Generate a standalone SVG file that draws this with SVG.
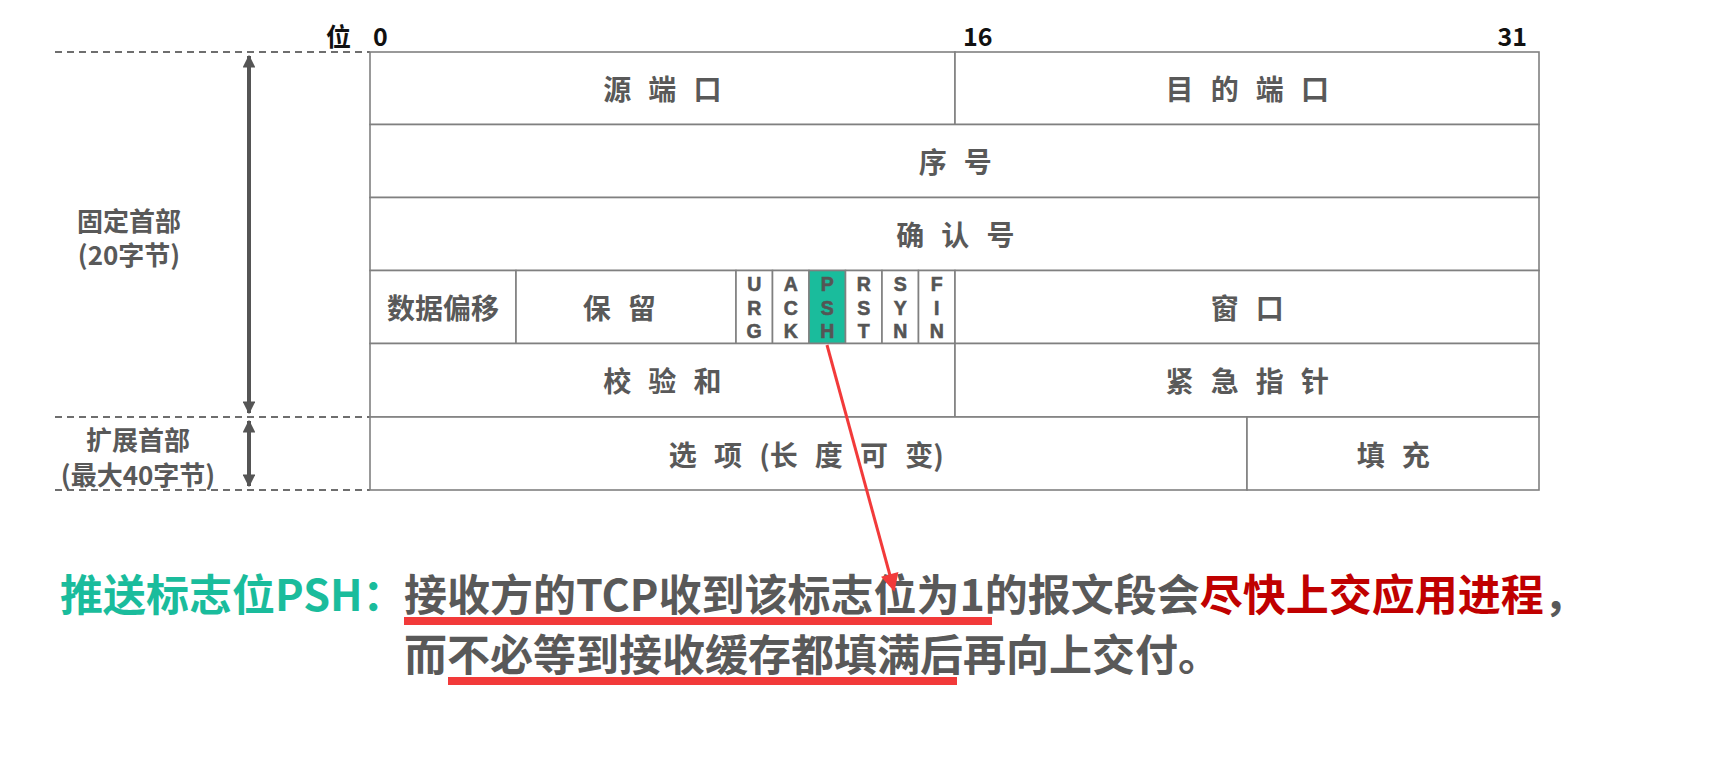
<svg xmlns="http://www.w3.org/2000/svg" width="1735" height="758" viewBox="0 0 1735 758">
<style>
.cell{fill:#ffffff;stroke:#808080;stroke-width:1.6}
.psh{fill:#1abc9c;stroke:#808080;stroke-width:1.6}
.lbl{font-family:"Noto Sans CJK SC","Noto Sans",sans-serif;font-weight:700;fill:#595959;font-size:28px;text-anchor:middle;dominant-baseline:central}
.sp{letter-spacing:5.4px}
.tight{letter-spacing:0}
.flag{font-family:"Liberation Sans",Arial,sans-serif;font-weight:700;fill:#555555;stroke:#555555;stroke-width:0.6;font-size:19.5px;text-anchor:middle}
.side{font-family:"Noto Sans CJK SC","Noto Sans",sans-serif;font-weight:700;fill:#595959;font-size:26px;text-anchor:middle;dominant-baseline:central}
.bit{font-family:"Noto Sans CJK SC","Noto Sans",sans-serif;font-weight:700;fill:#111111;font-size:25px}
.dash{stroke:#6e6e6e;stroke-width:2;stroke-dasharray:7 5;fill:none}
.dim{stroke:#555555;stroke-width:4;fill:none;marker-start:url(#dimHead);marker-end:url(#dimHead)}
.body{font-family:"Noto Sans CJK SC","Noto Sans",sans-serif;font-weight:700;font-size:43px;fill:#595959}
</style>
<defs>
<marker id="dimHead" viewBox="0 0 10 10" refX="9" refY="5" markerWidth="3.2" markerHeight="3.2" orient="auto-start-reverse" markerUnits="strokeWidth">
<path d="M0,0 L10,5 L0,10 z" fill="#555555"/>
</marker>
<marker id="redHead" viewBox="0 0 10 10" refX="9" refY="5" markerWidth="10" markerHeight="6" orient="auto" markerUnits="strokeWidth">
<path d="M0,0 L10,5 L0,10 z" fill="#f23a3a"/>
</marker>
</defs>
<rect width="1735" height="758" fill="#ffffff"/>

<g id="bit-labels">
<text class="bit" x="326" y="46">位</text>
<text class="bit" x="373" y="46">0</text>
<text class="bit" x="963" y="46">16</text>
<text class="bit" x="1527" y="46" text-anchor="end">31</text>
</g>

<g id="guides">
<line class="dash" x1="55" y1="52" x2="370" y2="52"/>
<line class="dash" x1="55" y1="417" x2="370" y2="417"/>
<line class="dash" x1="55" y1="490" x2="370" y2="490"/>
</g>

<g id="fixed-header">
<text class="side" x="129" y="219">固定首部</text>
<text class="side" x="129" y="253">(20字节)</text>
</g>
<g id="ext-header">
<text class="side" x="138" y="438">扩展首部</text>
<text class="side" x="138" y="473">(最大40字节)</text>
</g>

<g id="src-port"><rect class="cell" x="370" y="52" width="585" height="72.5"/><text class="lbl sp" x="665" y="88">源 端 口</text></g>
<g id="dst-port"><rect class="cell" x="955" y="52" width="584" height="72.5"/><text class="lbl sp" x="1250" y="88">目 的 端 口</text></g>
<g id="seq"><rect class="cell" x="370" y="124.5" width="1169" height="73"/><text class="lbl sp" x="958" y="161">序 号</text></g>
<g id="ack-num"><rect class="cell" x="370" y="197.5" width="1169" height="73"/><text class="lbl sp" x="958" y="234">确 认 号</text></g>
<g id="data-offset"><rect class="cell" x="370" y="270.5" width="146" height="73"/><text class="lbl" x="443" y="307">数据偏移</text></g>
<g id="reserved"><rect class="cell" x="516" y="270.5" width="220" height="73"/><text class="lbl sp" x="622" y="307">保 留</text></g>
<g id="flag-urg"><rect class="cell" x="736" y="270.5" width="36.5" height="73"/><text class="flag" x="754.2" y="291">U</text><text class="flag" x="754.2" y="314.5">R</text><text class="flag" x="754.2" y="338">G</text></g>
<g id="flag-ack"><rect class="cell" x="772.5" y="270.5" width="36.5" height="73"/><text class="flag" x="790.7" y="291">A</text><text class="flag" x="790.7" y="314.5">C</text><text class="flag" x="790.7" y="338">K</text></g>
<g id="flag-psh"><rect class="psh" x="809" y="270.5" width="36.5" height="73"/><text class="flag" x="827.2" y="291">P</text><text class="flag" x="827.2" y="314.5">S</text><text class="flag" x="827.2" y="338">H</text></g>
<g id="flag-rst"><rect class="cell" x="845.5" y="270.5" width="36.5" height="73"/><text class="flag" x="863.7" y="291">R</text><text class="flag" x="863.7" y="314.5">S</text><text class="flag" x="863.7" y="338">T</text></g>
<g id="flag-syn"><rect class="cell" x="882" y="270.5" width="36.5" height="73"/><text class="flag" x="900.2" y="291">S</text><text class="flag" x="900.2" y="314.5">Y</text><text class="flag" x="900.2" y="338">N</text></g>
<g id="flag-fin"><rect class="cell" x="918.5" y="270.5" width="36.5" height="73"/><text class="flag" x="936.7" y="291">F</text><text class="flag" x="936.7" y="314.5">I</text><text class="flag" x="936.7" y="338">N</text></g>
<g id="window"><rect class="cell" x="955" y="270.5" width="584" height="73"/><text class="lbl sp" x="1250" y="307">窗 口</text></g>
<g id="checksum"><rect class="cell" x="370" y="343.5" width="585" height="73.5"/><text class="lbl sp" x="665" y="380">校 验 和</text></g>
<g id="urgent"><rect class="cell" x="955" y="343.5" width="584" height="73.5"/><text class="lbl sp" x="1250" y="380">紧 急 指 针</text></g>
<g id="options"><rect class="cell" x="370" y="417" width="877" height="73"/><text class="lbl sp" x="809" y="453.5">选 项 <tspan class="tight">(</tspan>长 度 可 <tspan class="tight">变</tspan>)</text></g>
<g id="padding"><rect class="cell" x="1247" y="417" width="292" height="73"/><text class="lbl sp" x="1396" y="453.5">填 充</text></g>

<g id="explanation">
<text class="body" y="611"><tspan x="60" fill="#1abc9c">推送标志位PSH：</tspan><tspan x="404">接收方的TCP收到该标志位为1的报文段会</tspan><tspan fill="#c00000">尽快上交应用进程</tspan><tspan>，</tspan></text>
<text class="body" x="404" y="671">而不必等到接收缓存都填满后再向上交付。</text>
<rect x="404" y="617" width="588" height="8" fill="#f23a3a"/>
<rect x="448" y="677" width="509" height="8" fill="#f23a3a"/>
</g>

<g id="connectors">
<line class="dim" x1="249" y1="56" x2="249" y2="413"/>
<line class="dim" x1="249" y1="421" x2="249" y2="486"/>
<line x1="827" y1="345" x2="894" y2="590" stroke="#f23a3a" stroke-width="3" marker-end="url(#redHead)"/>
</g>
</svg>
